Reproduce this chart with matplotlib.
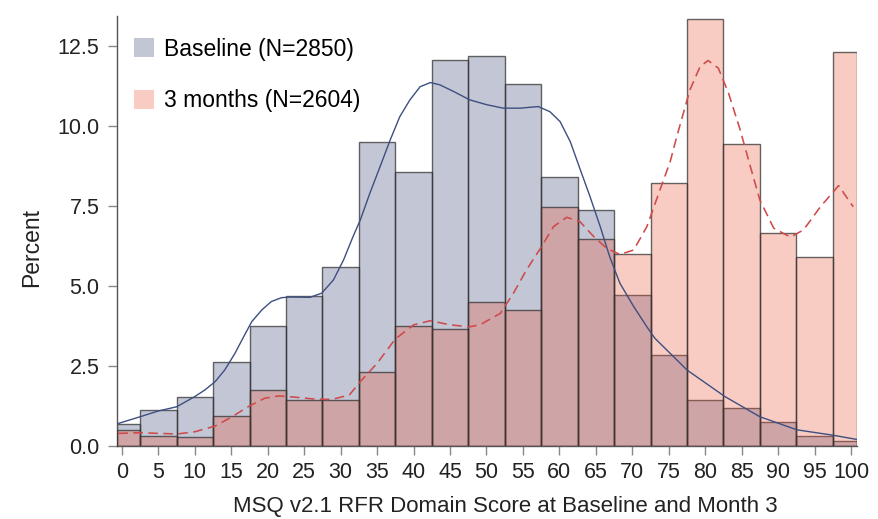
import numpy as np
import matplotlib
matplotlib.use("Agg")
import matplotlib.pyplot as plt
from matplotlib.patches import Patch

plt.rcParams['font.family'] = ['Liberation Sans', 'DejaVu Sans']

# ---- data -------------------------------------------------------------
bin_centers = [0, 5, 10, 15, 20, 25, 30, 35, 40, 45, 50,
               55, 60, 65, 70, 75, 80, 85, 90, 95, 100]
baseline_pct = [0.69, 1.13, 1.56, 2.63, 3.77, 4.71, 5.62, 9.52, 8.57, 12.09, 12.20,
                11.34, 8.43, 7.40, 4.73, 2.87, 1.46, 1.21, 0.76, 0.32, 0.17]
month3_pct = [0.52, 0.33, 0.30, 0.94, 1.78, 1.44, 1.46, 2.33, 3.77, 3.66, 4.52,
              4.27, 7.47, 6.48, 6.01, 8.22, 13.37, 9.45, 6.66, 5.93, 12.32]

baseline_kde_x = [-0.5, 2.5, 5.0, 7.5, 10.0, 11.4, 12.8, 14.1, 15.5, 16.7, 17.8, 19.2,
                  20.5, 21.9, 23.1, 25.8, 27.4, 29.0, 30.4, 31.7, 32.7, 34.0, 35.4,
                  36.8, 38.1, 39.5, 40.9, 42.3, 43.6, 45.5, 47.7, 50.0, 52.3, 54.6,
                  57.1, 58.7, 60.1, 61.5, 62.8, 64.2, 65.6, 66.9, 68.3, 70.2, 72.0,
                  73.1, 75.2, 77.5, 82.7, 87.5, 92.6, 97.6, 100.8]
baseline_kde_y = [0.72, 0.93, 1.11, 1.24, 1.56, 1.77, 2.03, 2.39, 2.91, 3.43, 3.90, 4.27,
                  4.53, 4.65, 4.67, 4.66, 4.79, 5.20, 5.83, 6.56, 7.08, 7.91, 8.74,
                  9.58, 10.30, 10.83, 11.24, 11.37, 11.30, 11.09, 10.83, 10.68, 10.57, 10.57,
                  10.62, 10.46, 10.15, 9.52, 8.69, 7.81, 6.87, 5.93, 5.10, 4.37, 3.74,
                  3.38, 2.91, 2.39, 1.56, 0.93, 0.52, 0.35, 0.22]

month3_kde_x = [-0.5, 2.5, 5.0, 7.5, 10.0, 12.8, 15.1, 17.3, 19.6, 21.5, 23.8, 26.5,
                28.8, 31.2, 32.7, 35.0, 37.5, 40.0, 42.3, 45.0, 47.7, 49.1, 51.9,
                53.7, 55.5, 57.4, 59.2, 61.0, 62.8, 64.7, 66.5, 68.3, 70.2, 72.0,
                73.8, 75.2, 76.1, 77.9, 79.3, 80.4, 81.8, 83.2, 84.8, 86.2, 87.5,
                89.4, 91.7, 93.5, 95.8, 98.3, 100.3]
month3_kde_y = [0.41, 0.43, 0.41, 0.39, 0.46, 0.64, 0.93, 1.24, 1.51, 1.58, 1.54, 1.48,
                1.47, 1.61, 2.03, 2.60, 3.36, 3.80, 3.93, 3.80, 3.74, 3.80, 4.16,
                4.79, 5.52, 6.19, 6.87, 7.16, 7.03, 6.56, 6.19, 6.00, 6.14, 6.87,
                8.02, 8.90, 9.68, 11.14, 11.87, 12.06, 11.82, 11.04, 9.89, 8.74, 7.70,
                6.82, 6.54, 6.77, 7.49, 8.15, 7.49]

labels = ["Baseline (N=2850)", "3 months (N=2604)"]
x_ticks = list(range(0, 101, 5))
y_ticks = [0.0, 2.5, 5.0, 7.5, 10.0, 12.5]
x_label = "MSQ v2.1 RFR Domain Score at Baseline and Month 3"
y_label = "Percent"

# ---- style ------------------------------------------------------------
xlim = (-0.63, 100.8)
ylim = (0, 13.45)
alpha = 0.3
grey_base = (58 / 255, 68 / 255, 118 / 255)
salmon_base = (232 / 255, 88 / 255, 58 / 255)
edge = (0.2, 0.2, 0.2, 0.75)

fig = plt.figure(figsize=(8.79, 5.19), dpi=100)
ax = fig.add_axes([0.1335, 0.1397, 0.8413, 0.8295])

centers = np.array(bin_centers, dtype=float)
lefts = np.clip(centers - 2.5, xlim[0], xlim[1])
rights = np.clip(centers + 2.5, xlim[0], xlim[1])
widths = rights - lefts

ax.bar(lefts, baseline_pct, width=widths, align='edge',
       color=grey_base + (alpha,), edgecolor=edge, linewidth=1.0, zorder=2)
ax.bar(lefts, month3_pct, width=widths, align='edge',
       color=salmon_base + (alpha,), edgecolor=edge, linewidth=1.0, zorder=3)

ax.plot(baseline_kde_x, baseline_kde_y, color='#3d4f80', linewidth=1.0, zorder=5)
ax.plot(month3_kde_x, month3_kde_y, color='#cf4a4a', linewidth=1.15,
        dashes=(6.0, 3.4), zorder=5)

ax.set_xlim(*xlim)
ax.set_ylim(*ylim)
ax.set_xticks(x_ticks)
ax.set_yticks(y_ticks)
ax.set_yticklabels([f"{v:.1f}" for v in y_ticks])

for s in ['top', 'right']:
    ax.spines[s].set_visible(False)
for s in ['left', 'bottom']:
    ax.spines[s].set_color('#555555')
    ax.spines[s].set_linewidth(1.0)

ax.tick_params(axis='both', direction='out', length=6.5, width=1.0,
               color='#888888', labelsize=15.5, labelcolor='#222222')
ax.tick_params(axis='y', pad=6.5)
ax.tick_params(axis='x', pad=5.0)

ax.set_xlabel(x_label, fontsize=16, color='#222222')
ax.set_ylabel(y_label, fontsize=16.5, color='#222222')
ax.xaxis.set_label_coords(0.524, -0.116)
ax.yaxis.set_label_coords(-0.1005, 0.462)

handles = [Patch(facecolor=grey_base + (alpha,), edgecolor='none'),
           Patch(facecolor=salmon_base + (alpha,), edgecolor='none')]
ax.legend(handles, labels, loc='upper left', bbox_to_anchor=(0.023, 0.950),
          frameon=False, fontsize=16.5, handlelength=0.87, handleheight=0.87,
          handletextpad=0.44, labelspacing=1.25, borderpad=0, borderaxespad=0)

fig.savefig("out.png", dpi=100)
